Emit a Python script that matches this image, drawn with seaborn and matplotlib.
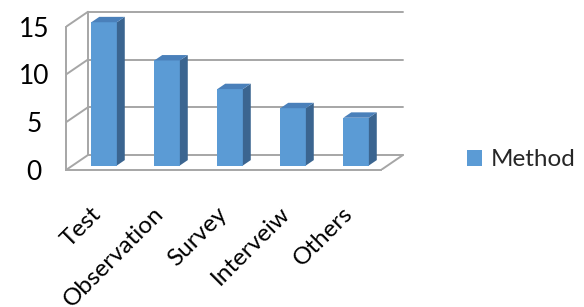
"""Grafico de barras 3D (estilo Excel) com seaborn: metodos usados."""
import matplotlib
matplotlib.use("Agg")
import matplotlib.pyplot as plt
import matplotlib.transforms as mtransforms
from matplotlib.patches import Polygon, Patch
import seaborn as sns

categories = ["Test", "Observation", "Survey", "Interveiw", "Others"]
values = [15, 11, 8, 6, 5]
yticks = [0, 5, 10, 15]
series_name = "Method"

FRONT = "#5B9BD5"
SIDE = "#3B6590"
TOP = "#4A80BA"
GRID = "#A6A6A6"

W, H = 584, 307
LEFT, RIGHT, TOPPX, BOTTOM = 66, 405, 10, 170   # caixa do eixo em pixels
PX_X = 63.0       # pixels por categoria
PX_Y = 9.55       # pixels por unidade
DEPTH = (22, 15)  # profundidade da parede do fundo, pixels
F0, F1 = 0.30, 0.66  # posicao da barra na profundidade

sns.set_style("white")
plt.rcParams["font.family"] = ["Lato", "DejaVu Sans"]

fig = plt.figure(figsize=(W / 100, H / 100), dpi=100)
ax = fig.add_axes([LEFT / W, 1 - BOTTOM / H, (RIGHT - LEFT) / W, (BOTTOM - TOPPX) / H])

sns.barplot(x=categories, y=values, color=FRONT, saturation=1, width=0.405,
            edgecolor="none", ax=ax, zorder=3)

xmax = -0.5 + (RIGHT - LEFT) / PX_X
ymax = (BOTTOM - TOPPX) / PX_Y
ax.set_xlim(-0.5, xmax)
ax.set_ylim(0, ymax)
ddx, ddy = DEPTH[0] / PX_X, DEPTH[1] / PX_Y
n = len(categories)

# parede do fundo e parede lateral
for v in yticks:
    ax.plot([-0.5 + ddx, n - 0.5 + ddx], [v + ddy, v + ddy], color=GRID, lw=1.4, zorder=1)
    ax.plot([-0.5, -0.5 + ddx], [v, v + ddy], color=GRID, lw=1.4, zorder=1)
ax.plot([-0.5 + ddx, -0.5 + ddx], [ddy, yticks[-1] + ddy], color=GRID, lw=1.4, zorder=1)
ax.plot([n - 0.5, n - 0.5 + ddx], [0, ddy], color=GRID, lw=1.4, zorder=1)

# barras deslocadas para o meio da profundidade, com lateral e topo
shift = mtransforms.Affine2D().translate(F0 * ddx * PX_X, F0 * ddy * PX_Y)
bdx, bdy = (F1 - F0) * ddx, (F1 - F0) * ddy
for p in list(ax.patches):
    p.set_transform(ax.transData + shift)
    x0, w, h = p.get_x(), p.get_width(), p.get_height()
    x1 = x0 + w
    side = Polygon([(x1, 0), (x1 + bdx, bdy), (x1 + bdx, h + bdy), (x1, h)],
                   closed=True, facecolor=SIDE, edgecolor="none", zorder=3,
                   transform=ax.transData + shift)
    top = Polygon([(x0, h), (x1, h), (x1 + bdx, h + bdy), (x0 + bdx, h + bdy)],
                  closed=True, facecolor=TOP, edgecolor="none", zorder=3,
                  transform=ax.transData + shift)
    ax.add_patch(side)
    ax.add_patch(top)

# eixos frontais
for s in ["top", "right"]:
    ax.spines[s].set_visible(False)
ax.spines["left"].set_bounds(0, yticks[-1])
ax.spines["bottom"].set_bounds(-0.5, n - 0.5)
for s in ["left", "bottom"]:
    ax.spines[s].set_color(GRID)
    ax.spines[s].set_linewidth(1.4)

ax.set_yticks(yticks)
ax.set_yticklabels([str(v) for v in yticks])
ax.tick_params(axis="y", length=6, width=1.4, color=GRID, pad=17, labelsize=19,
               labelcolor="black")
for lab in ax.get_yticklabels():
    lab.set_ha("center")

ax.set_xticks(range(n))
ax.set_xticklabels(categories, rotation=45, ha="right", va="center",
                   rotation_mode="anchor")
ax.set_xticks([i - 0.5 for i in range(n + 1)], minor=True)
ax.tick_params(axis="x", which="major", length=0, pad=29, labelsize=17.5,
               labelcolor="black")
ax.tick_params(axis="x", which="minor", length=7, width=1.4, color=GRID)
ax.set_xlabel("")
ax.set_ylabel("")
ax.grid(False)

fig.legend(handles=[Patch(facecolor=FRONT, edgecolor="none", label=series_name)],
           loc="center left", bbox_to_anchor=(467 / W, 1 - 160 / H), frameon=False,
           borderpad=0, borderaxespad=0, fontsize=17.5, handlelength=0.62,
           handleheight=0.62, handletextpad=0.35)

fig.savefig("out.png", dpi=100)
